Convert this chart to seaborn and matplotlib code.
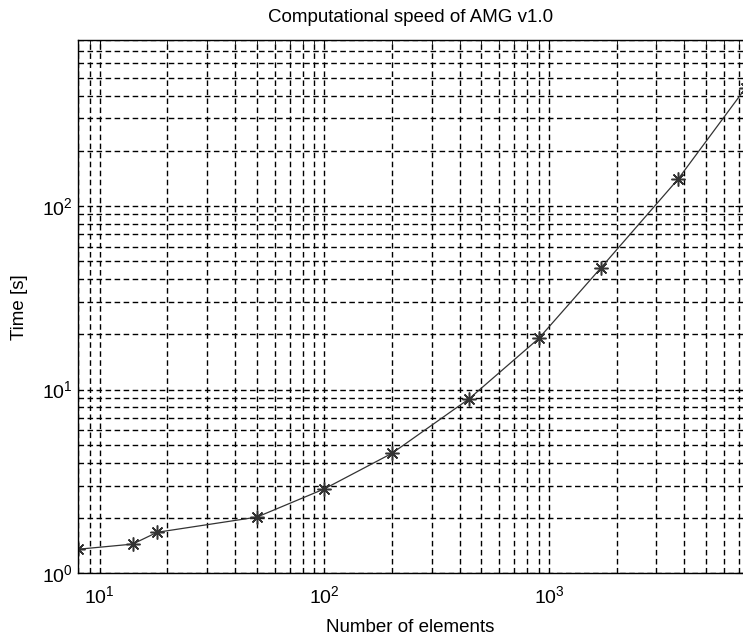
import matplotlib
matplotlib.use("Agg")
import matplotlib.pyplot as plt
import matplotlib.ticker as mticker
import seaborn as sns
import pandas as pd

# Values
n_elements = [8, 14, 18, 50, 100, 200, 440, 900, 1700, 3750, 7500]
time_s = [1.35, 1.44, 1.67, 2.02, 2.88, 4.5, 8.9, 19, 46, 140, 440]

df = pd.DataFrame({"Number of elements": n_elements, "Time [s]": time_s})

sns.set_style("white")
plt.rcParams["font.family"] = ["Liberation Sans", "DejaVu Sans"]
plt.rcParams["mathtext.fontset"] = "custom"
plt.rcParams["mathtext.rm"] = "Liberation Sans"
plt.rcParams["mathtext.it"] = "Liberation Sans"
plt.rcParams["text.color"] = "black"
plt.rcParams["axes.labelcolor"] = "black"

fig = plt.figure(figsize=(7.43, 6.39), dpi=100)
ax = fig.add_axes([0.105, 0.103, 0.895, 0.834])

sns.lineplot(data=df, x="Number of elements", y="Time [s]", ax=ax,
             color="#333333", linewidth=0.9, marker=(8, 2, 0), markersize=10,
             markeredgewidth=1.1, markeredgecolor="#333333",
             estimator=None, sort=False)

ax.set_xscale("log")
ax.set_yscale("log")
ax.set_xlim(8, 7300)
ax.set_ylim(1, 800)

ax.xaxis.set_major_locator(mticker.LogLocator(base=10))
ax.xaxis.set_minor_locator(mticker.LogLocator(base=10, subs=range(2, 10)))
ax.yaxis.set_major_locator(mticker.LogLocator(base=10))
ax.yaxis.set_minor_locator(mticker.LogLocator(base=10, subs=range(2, 10)))
ax.xaxis.set_minor_formatter(mticker.NullFormatter())
ax.yaxis.set_minor_formatter(mticker.NullFormatter())

ax.grid(True, which="both", color="black", linestyle=(0, (4, 2.5)), linewidth=1.0)
ax.set_axisbelow(True)

ax.tick_params(which="both", direction="in", top=True, right=True,
               labelsize=14, colors="black")
ax.tick_params(which="major", length=6)
ax.tick_params(which="minor", length=3)
ax.tick_params(axis="x", pad=9)
for s in ax.spines.values():
    s.set_color("black")
    s.set_linewidth(1.0)
ax.spines["right"].set_visible(False)

ax.set_title("Computational speed of AMG v1.0", fontsize=13.5, pad=13, color="black")
ax.set_xlabel("Number of elements", fontsize=13.5, labelpad=8, color="black")
ax.set_ylabel("Time [s]", fontsize=13.5, labelpad=10, color="black")

fig.savefig("out.png", dpi=100)
